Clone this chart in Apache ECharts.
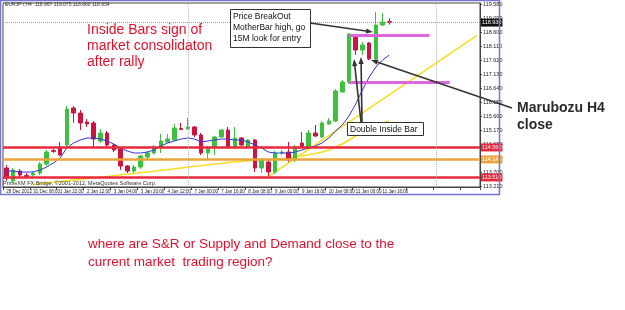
<!DOCTYPE html>
<html lang="en">
<head>
<meta charset="UTF-8">
<title>EURJPY H4</title>
<script src="https://cdn.jsdelivr.net/npm/echarts@6/dist/echarts.min.js"></script>
<style>
    html, body { margin: 0; padding: 0; background: #fff; }
    #main { width: 625px; height: 310px; }
</style>
</head>
<body>
<div id="main"></div>
<script>
    // time labels, one every 4 bars (H4)
    var timeLabels = ['28 Dec 2012', '31 Dec 08:00', '1 Jan 22:00', '2 Jan 12:00', '3 Jan 04:00', '3 Jan 20:00',
        '4 Jan 12:00', '7 Jan 00:00', '7 Jan 16:00', '8 Jan 08:00', '9 Jan 00:00', '9 Jan 16:00',
        '10 Jan 08:00', '11 Jan 00:00', '11 Jan 16:00'];

    var opens = [113.84, 113.385, 113.735, 113.58, 113.595, 113.665, 113.98, 114.45, 114.54, 114.645,
        115.94, 115.765, 115.45, 115.415, 114.785, 115.065, 114.645, 114.505, 113.91, 113.735,
        113.875, 114.225, 114.365, 114.575, 114.75, 114.82, 115.22, 115.205, 115.275, 114.995,
        114.365, 114.575, 114.925, 115.17, 114.575, 114.89, 114.575, 114.82, 113.84, 114.05,
        113.70, 114.365, 114.40, 114.12, 114.715, 114.575, 115.065, 114.925, 115.38, 115.485,
        116.50, 116.85, 118.46, 117.97, 118.215, 117.655, 118.845, 118.967];
    var closes = [113.49, 113.77, 113.595, 113.54, 113.65, 113.98, 114.40, 114.42, 114.295, 115.905,
        115.765, 115.415, 115.38, 114.855, 115.065, 114.645, 114.47, 113.91, 113.735, 113.875,
        114.26, 114.365, 114.575, 114.785, 114.855, 115.24, 115.19, 115.275, 114.995, 114.365,
        114.54, 114.925, 115.17, 114.575, 114.89, 114.645, 114.82, 113.84, 114.12, 113.70,
        114.365, 114.40, 114.12, 114.575, 114.575, 115.065, 114.96, 115.415, 115.485, 116.535,
        116.85, 118.53, 117.97, 118.145, 117.655, 118.845, 118.95, 118.934];
    var lows = [113.385, 113.32, 113.525, 113.49, 113.525, 113.595, 113.91, 114.365, 114.26, 114.575,
        115.415, 115.17, 115.275, 114.54, 114.715, 114.575, 114.40, 113.77, 113.665, 113.665,
        113.805, 114.155, 114.295, 114.365, 114.715, 114.785, 115.17, 115.17, 114.925, 114.295,
        114.12, 114.295, 114.89, 114.54, 114.505, 114.61, 114.54, 113.70, 113.665, 113.56,
        113.63, 114.295, 114.05, 114.05, 114.54, 114.54, 114.925, 114.89, 115.345, 115.45,
        116.465, 116.78, 117.795, 117.795, 117.62, 117.62, 118.81, 118.86];
    var highs = [113.945, 113.84, 113.805, 113.665, 113.735, 114.05, 114.47, 114.505, 114.75, 116.01,
        116.01, 115.87, 115.555, 115.485, 115.205, 115.135, 114.68, 114.575, 113.945, 113.945,
        114.295, 114.435, 114.645, 115.03, 115.03, 115.38, 115.415, 115.59, 115.31, 115.065,
        114.61, 114.96, 115.205, 115.275, 115.275, 114.925, 114.855, 114.855, 114.19, 114.12,
        114.435, 114.47, 114.75, 114.645, 115.10, 115.17, 115.345, 115.485, 115.59, 116.605,
        116.92, 118.565, 118.495, 118.25, 118.25, 119.30, 119.265, 119.075];

    var maFast = [113.735, 113.735, 113.70, 113.70, 113.70, 113.77, 113.875, 114.015, 114.19, 114.54,
        114.715, 114.82, 114.89, 114.89, 114.855, 114.785, 114.68, 114.54, 114.435, 114.365,
        114.365, 114.40, 114.47, 114.61, 114.715, 114.785, 114.855, 114.89, 114.855, 114.75,
        114.785, 114.82, 114.855, 114.855, 114.82, 114.82, 114.75, 114.645, 114.54, 114.40,
        114.365, 114.365, 114.365, 114.40, 114.47, 114.54, 114.61, 114.715, 114.89, 115.135,
        115.345, 115.66, 116.08, 116.57, 117.025, 117.375, 117.62, 117.795];
    var maSlow = [null, null, null, null, 113.26, 113.29, 113.315, 113.34, 113.36, 113.39,
        113.42, 113.44, 113.47, 113.49, 113.52, 113.54, 113.57, 113.60, 113.62, 113.65,
        113.68, 113.70, 113.73, 113.76, 113.78, 113.81, 113.84, 113.87, 113.90, 113.92,
        113.95, 113.98, 114.00, 114.03, 114.05, 114.07, 114.09, 114.11, 114.12, 114.12,
        114.14, 114.16, 114.19, 114.23, 114.26, 114.30, 114.35, 114.40, 114.47, 114.58,
        114.68, 114.82, 114.96, 115.10, 115.21, 115.31, 115.42, 115.49];

    var trendBars = [39, 70];
    var trendPrices = [113.54, 118.47];

    var levelPrices = [114.56, 114.14, 113.51];
    var levelColors = ['#e8283a', '#e9a53c', '#e8283a'];

    var zoneStart = [51, 51];
    var zoneEnd = [63, 66];
    var zonePrices = [118.495, 116.85];

    var priceTicks = [113.210, 113.700, 114.190, 114.680, 115.170, 115.660, 116.150, 116.640,
        117.130, 117.620, 118.110, 118.600, 119.090, 119.580];
    var gridBars = [27, 64];
    var nSlots = 71;

    var cats = [];
    for (var i = 0; i < nSlots; i++) cats.push('b' + i);
    var candles = [];
    for (var i = 0; i < opens.length; i++) candles.push([opens[i], closes[i], lows[i], highs[i]]);
    var trend = [];
    for (var i = 0; i < nSlots; i++) trend.push(null);
    trend[trendBars[0]] = trendPrices[0];
    trend[trendBars[1]] = trendPrices[1];

    var font = '"Liberation Sans", Arial, sans-serif';

    function arrow(x1, y1, x2, y2) {
        var a = Math.atan2(y2 - y1, x2 - x1), s = 7, w = 2.6;
        var bx = x2 - s * Math.cos(a), by = y2 - s * Math.sin(a);
        var px = -Math.sin(a) * w, py = Math.cos(a) * w;
        return [
            {type: 'line', z: 100, shape: {x1: x1, y1: y1, x2: bx, y2: by}, style: {stroke: '#333', lineWidth: 1.6}},
            {type: 'polygon', z: 100, shape: {points: [[x2, y2], [bx + px, by + py], [bx - px, by - py]]}, style: {fill: '#333'}}
        ];
    }

    var levelLines = levelPrices.map(function (p, k) {
        return {
            yAxis: p,
            lineStyle: {color: levelColors[k], width: 2.5, type: 'solid'},
            label: {backgroundColor: levelColors[k], color: '#fff'}
        };
    });
    levelLines.push({
        yAxis: closes[closes.length - 1],
        lineStyle: {color: '#9a9a9a', width: 1, type: 'dotted'},
        label: {backgroundColor: '#111', color: '#fff'}
    });
    gridBars.forEach(function (b) {
        levelLines.push({xAxis: b, lineStyle: {color: '#b8b8b8', width: 1, type: 'dotted'}, label: {show: false}});
    });
    var zoneLines = zonePrices.map(function (p, k) {
        return [{coord: [zoneStart[k], p]}, {coord: [zoneEnd[k], p]}];
    });

    var graphics = [
        {type: 'rect', z: 100, shape: {x: 0.5, y: 0.5, width: 499, height: 194}, style: {fill: 'none', stroke: '#7474d4', lineWidth: 1.5}},
        {type: 'text', z: 100, style: {x: 5, y: 2, text: 'EURJPY,H4  118.967 119.075 118.860 118.934', font: '5px ' + font, fill: '#333'}},
        {type: 'text', z: 100, style: {x: 3, y: 180, text: 'PrimeXM FX Bridge, \u00a92001-2012, MetaQuotes Software Corp.', font: '5.5px ' + font, fill: '#333'}},
        {type: 'text', z: 100, style: {x: 87, y: 22, text: 'Inside Bars sign of\nmarket consolidaton\nafter rally', font: '14px ' + font, lineHeight: 16, fill: '#e0112d'}},
        {type: 'text', z: 100, style: {x: 88, y: 235, text: 'where are S&R or Supply and Demand close to the\ncurrent market  trading region?', font: '13.5px ' + font, lineHeight: 18, fill: '#e0112d'}},
        {type: 'text', z: 100, style: {x: 517, y: 100, text: 'Marubozu H4\nclose', font: 'bold 14px ' + font, lineHeight: 17, fill: '#2b2b2b'}},
        {type: 'rect', z: 100, shape: {x: 230.5, y: 9.5, width: 80, height: 38}, style: {fill: '#fff', stroke: '#333', lineWidth: 1}},
        {type: 'text', z: 101, style: {x: 233, y: 11, text: 'Price BreakOut\nMotherBar high, go\n15M look for entry', font: '8.5px ' + font, lineHeight: 11, fill: '#111'}},
        {type: 'rect', z: 100, shape: {x: 347.5, y: 122.5, width: 76, height: 13}, style: {fill: '#fff', stroke: '#333', lineWidth: 1}},
        {type: 'text', z: 101, style: {x: 350, y: 125, text: 'Double Inside Bar', font: '8.5px ' + font, fill: '#111'}}
    ];
    graphics = graphics.concat(arrow(310, 23, 373, 32), arrow(512, 108, 371, 60),
        arrow(361, 122, 354, 59), arrow(362, 122, 361, 57));

    var chart = echarts.init(document.getElementById('main'));
    chart.setOption({
        animation: false,
        backgroundColor: '#fff',
        grid: {left: 3, right: 145, top: 3, bottom: 123, show: true, borderColor: '#444', borderWidth: 1},
        xAxis: {
            type: 'category',
            data: cats,
            boundaryGap: true,
            axisLine: {show: true, lineStyle: {color: '#444'}},
            axisTick: {show: true, interval: 3, length: 3, lineStyle: {color: '#444'}},
            axisLabel: {
                interval: 3, showMinLabel: true, hideOverlap: false, align: 'left', margin: 2,
                fontSize: 4.5, color: '#222', fontFamily: font,
                formatter: function (v, i) { return timeLabels[i / 4] || ''; }
            },
            splitLine: {show: false}
        },
        yAxis: {
            type: 'value',
            position: 'right',
            min: 113.175,
            max: 119.615,
            axisLine: {show: true, lineStyle: {color: '#444'}},
            axisTick: {show: true, customValues: priceTicks, length: 2, lineStyle: {color: '#444'}},
            axisLabel: {
                customValues: priceTicks, fontSize: 5.5, margin: 3, color: '#222', fontFamily: font,
                formatter: function (v) { return v.toFixed(3); }
            },
            splitLine: {show: false}
        },
        graphic: graphics,
        series: [
            {
                type: 'candlestick',
                data: candles,
                barWidth: 4,
                itemStyle: {color: '#3fbf3f', color0: '#cc1442', borderColor: '#3fbf3f', borderColor0: '#cc1442', borderWidth: 1},
                markLine: {
                    silent: true,
                    symbol: ['none', 'none'],
                    label: {position: 'end', fontSize: 5.5, fontFamily: font, padding: [1, 1], distance: 1,
                        formatter: function (p) { return p.value.toFixed(3); }},
                    data: levelLines
                },
                z: 3
            },
            {
                type: 'line',
                data: [],
                markLine: {
                    silent: true,
                    symbol: ['none', 'none'],
                    label: {show: false},
                    lineStyle: {color: '#dd66dd', width: 3, type: 'solid'},
                    data: zoneLines
                }
            },
            {type: 'line', data: maFast, symbol: 'none', lineStyle: {color: '#3434dc', width: 1}, z: 4},
            {type: 'line', data: maSlow, symbol: 'none', lineStyle: {color: '#f5de1e', width: 1.5}, z: 2},
            {type: 'line', data: trend, symbol: 'none', connectNulls: true, lineStyle: {color: '#f5de1e', width: 1.5}, z: 2}
        ]
    });
</script>
</body>
</html>
